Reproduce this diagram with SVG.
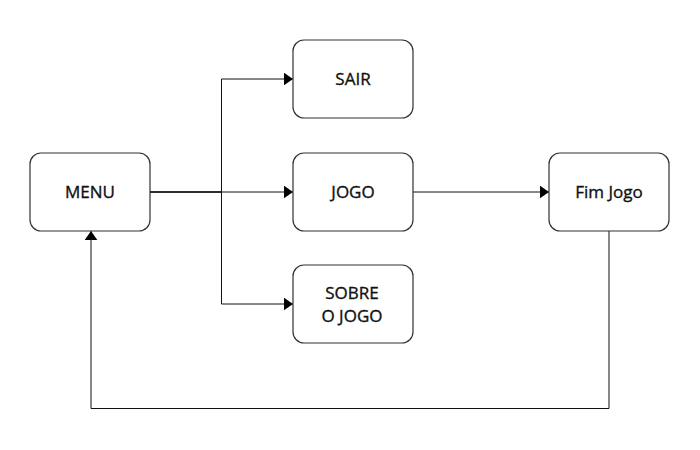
<svg xmlns="http://www.w3.org/2000/svg" width="700" height="450" viewBox="0 0 700 450">
<defs>
<marker id="arr" viewBox="0 0 10 14" refX="10" refY="7" markerWidth="9" markerHeight="13" markerUnits="userSpaceOnUse" orient="auto">
<path d="M0,0 L10,7 L0,14 Z" fill="#000"/>
</marker>
<style>
.box{fill:#fff;stroke:#333;stroke-width:1.2}
.lbl{font-family:"Open Sans","Liberation Sans",sans-serif;font-size:17px;fill:#111;stroke:#111;stroke-width:0.35;text-anchor:middle}
.con{fill:none;stroke:#111;stroke-width:1}
</style>
</defs>
<rect width="700" height="450" fill="#fff"/>
<g id="connectors">
<path class="con" d="M150,192 H221.5 V79 H293" marker-end="url(#arr)"/>
<path class="con" d="M150,192 H293" marker-end="url(#arr)"/>
<path class="con" d="M150,192 H221.5 V304 H293" marker-end="url(#arr)"/>
<path class="con" d="M413,192 H549" marker-end="url(#arr)"/>
<path class="con" d="M609,231 V408.5 H91 V231" marker-end="url(#arr)"/>
</g>
<g id="menu">
<rect class="box" x="30" y="153" width="120" height="78" rx="11"/>
<text class="lbl" x="90" y="198">MENU</text>
</g>
<g id="sair">
<rect class="box" x="293" y="40" width="120" height="78" rx="11"/>
<text class="lbl" x="353" y="85">SAIR</text>
</g>
<g id="jogo">
<rect class="box" x="293" y="153" width="120" height="78" rx="11"/>
<text class="lbl" x="353" y="198">JOGO</text>
</g>
<g id="sobre">
<rect class="box" x="293" y="265" width="120" height="78" rx="11"/>
<text class="lbl" x="352" y="299">SOBRE</text>
<text class="lbl" x="352" y="322">O JOGO</text>
</g>
<g id="fimjogo">
<rect class="box" x="549" y="153" width="120" height="78" rx="11"/>
<text class="lbl" x="609" y="198">Fim Jogo</text>
</g>
</svg>
